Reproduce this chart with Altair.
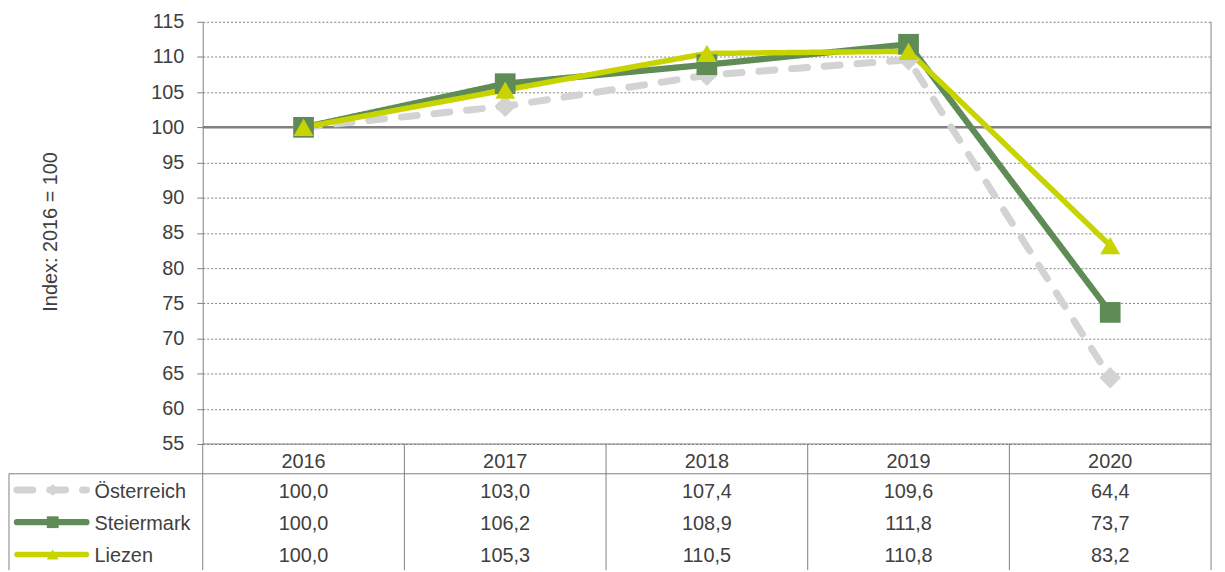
import altair as alt
import pandas as pd

# ---- data ----
years = ["2016", "2017", "2018", "2019", "2020"]
series = ["Österreich", "Steiermark", "Liezen"]
oesterreich = [100.0, 103.0, 107.4, 109.6, 64.4]
steiermark = [100.0, 106.2, 108.9, 111.8, 73.7]
liezen = [100.0, 105.3, 110.5, 110.8, 83.2]
y_ticks = [55, 60, 65, 70, 75, 80, 85, 90, 95, 100, 105, 110, 115]
table_rows = ["Jahr"] + series

# ---- styles ----
colors = ["#D3D3D3", "#5F8B57", "#C8D400"]
shapes = ["diamond", "square", "triangle-up"]
widths = [7, 5.5, 5.5]
dashes = [[16, 17], [1, 0], [1, 0]]
FONT = "Liberation Sans"
TXT = "#404040"
GRID = "#808080"
FS = 20

rows = []
for s, vals in zip(series, [oesterreich, steiermark, liezen]):
    for yr, v in zip(years, vals):
        rows.append({"Jahr": yr, "Serie": s, "Wert": v,
                     "Label": f"{v:.1f}".replace(".", ",")})
df = pd.DataFrame(rows)
df_years = pd.DataFrame({"Jahr": years})
df_series = pd.DataFrame({"Serie": series})
df_one = pd.DataFrame({"n": [1]})

# ---- scales ----
xs = alt.Scale(type="band", domain=years, paddingInner=0, paddingOuter=0)
ymain = alt.Scale(domain=[55, 115], range=[425, 0], nice=False, zero=False)
tb = alt.Scale(type="band", domain=table_rows, range=[422.5, 552.5],
               paddingInner=0, paddingOuter=0)

color_enc = alt.Color("Serie:N", scale=alt.Scale(domain=series, range=colors), legend=None)
dash_enc = alt.StrokeDash("Serie:N", scale=alt.Scale(domain=series, range=dashes), legend=None)
width_enc = alt.StrokeWidth("Serie:N", scale=alt.Scale(domain=series, range=widths), legend=None)
shape_enc = alt.Shape("Serie:N", scale=alt.Scale(domain=series, range=shapes), legend=None)
size_enc = alt.Size("Serie:N", scale=alt.Scale(domain=series, range=[470, 400, 420]), legend=None)

x_center = alt.X("Jahr:O", scale=xs, bandPosition=0.5, axis=None)

# ---- plot area ----
base100 = alt.Chart(df_one).mark_rule(color=GRID, strokeWidth=2.5).encode(
    y=alt.Y(datum=100, scale=ymain, axis=None)
)

right_border = alt.Chart(df_one).mark_rule(color=GRID, strokeWidth=1).encode(
    x=alt.X(datum="2020", type="ordinal", scale=xs, bandPosition=1, axis=None),
    y=alt.Y(datum=115, scale=ymain, axis=None),
    y2=alt.value("height"),
)

lines = alt.Chart(df).mark_line(strokeCap="round", strokeJoin="round").encode(
    x=x_center,
    y=alt.Y("Wert:Q", scale=ymain, axis=alt.Axis(
        values=y_ticks, tickSize=6, tickColor=GRID, domainColor=GRID,
        labelFont=FONT, labelFontSize=FS, labelColor=TXT, labelPadding=13,
        grid=True, gridColor=GRID, gridDash=[2, 2], gridWidth=1,
        title="Index: 2016 = 100", titleFont=FONT, titleFontSize=FS,
        titleFontWeight="normal", titleColor=TXT, titleX=-147, titleY=211,
        titleBaseline="alphabetic")),
    color=color_enc,
    strokeDash=dash_enc,
    strokeWidth=width_enc,
    order=alt.Order("Jahr:O"),
)

points = alt.Chart(df).mark_point(filled=True, opacity=1, strokeWidth=0).encode(
    x=x_center,
    y=alt.Y("Wert:Q", scale=ymain, axis=None),
    color=color_enc,
    shape=shape_enc,
    size=size_enc,
)

# ---- table ----
table_top = alt.Chart(df_one).mark_rule(color=GRID, strokeWidth=1).encode(
    y=alt.Y(datum=55, scale=ymain, axis=None)
)
header_bottom = alt.Chart(df_one).mark_rule(color=GRID, strokeWidth=1).encode(
    y=alt.Y(datum="Jahr", type="nominal", scale=tb, bandPosition=1, axis=None)
)
legend_top = alt.Chart(df_one).mark_rule(color=GRID, strokeWidth=1).encode(
    x=alt.value(-195), x2=alt.value(0),
    y=alt.Y(datum="Jahr", type="nominal", scale=tb, bandPosition=1, axis=None)
)
legend_left = alt.Chart(df_one).mark_rule(color=GRID, strokeWidth=1).encode(
    x=alt.value(-195),
    y=alt.Y(datum="Jahr", type="nominal", scale=tb, bandPosition=1, axis=None),
    y2=alt.value("height"),
)
col_lines = alt.Chart(df_years).mark_rule(color=GRID, strokeWidth=1).encode(
    x=alt.X("Jahr:O", scale=xs, bandPosition=0, axis=None),
    y=alt.Y(datum=55, scale=ymain, axis=None),
    y2=alt.value("height"),
)

header_text = alt.Chart(df_years).mark_text(
    font=FONT, fontSize=FS, color=TXT, baseline="middle", dy=4).encode(
    x=x_center,
    y=alt.Y(datum="Jahr", type="nominal", scale=tb, bandPosition=0.5, axis=None),
    text="Jahr:N",
)
value_text = alt.Chart(df).mark_text(
    font=FONT, fontSize=FS, color=TXT, baseline="middle", dy=2).encode(
    x=x_center,
    y=alt.Y("Serie:N", scale=tb, bandPosition=0.5, axis=None),
    text="Label:N",
)

legend_rule = alt.Chart(df_series).mark_rule(strokeCap="round").encode(
    x=alt.value(-187), x2=alt.value(-117),
    y=alt.Y("Serie:N", scale=tb, bandPosition=0.5, axis=None),
    color=color_enc,
    strokeDash=dash_enc,
    strokeWidth=width_enc,
)
legend_mark = alt.Chart(df_series).mark_point(filled=True, opacity=1, strokeWidth=0, size=140).encode(
    x=alt.value(-151),
    y=alt.Y("Serie:N", scale=tb, bandPosition=0.5, axis=None),
    color=color_enc,
    shape=shape_enc,
)
legend_text = alt.Chart(df_series).mark_text(
    font=FONT, fontSize=FS, color=TXT, baseline="middle", align="left", dy=2).encode(
    x=alt.value(-109),
    y=alt.Y("Serie:N", scale=tb, bandPosition=0.5, axis=None),
    text="Serie:N",
)

chart = alt.layer(
    base100, right_border, lines, points,
    table_top, header_bottom, legend_top, legend_left, col_lines,
    header_text, value_text, legend_rule, legend_mark, legend_text,
).resolve_scale(y="independent").properties(
    width=1015, height=552,
    autosize=alt.AutoSizeParams(type="none"),
    padding={"left": 196, "top": 12, "right": 6, "bottom": 0},
    background="white",
).configure_view(stroke=None)

chart.save("out.html", embed_options={"renderer": "svg", "actions": False})
